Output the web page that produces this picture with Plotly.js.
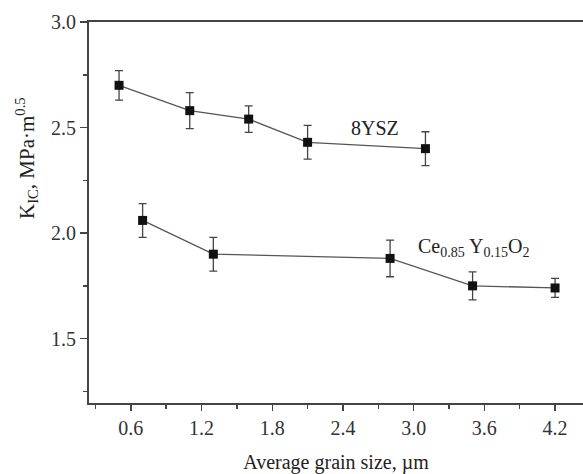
<!DOCTYPE html>
<html>
<head>
<meta charset="utf-8">
<script src="https://cdn.plot.ly/plotly-3.0.1.min.js"></script>
<style>html,body{margin:0;padding:0;background:#fff;}#chart{width:583px;height:474px;}</style>
</head>
<body>
<div id="chart"></div>
<script>
// 8YSZ series
const ysz_x = [0.5, 1.1, 1.6, 2.1, 3.1];
const ysz_y = [2.70, 2.58, 2.54, 2.43, 2.40];
const ysz_err = [0.07, 0.085, 0.063, 0.08, 0.08];
// Ce0.85Y0.15O2 series
const ce_x = [0.7, 1.3, 2.8, 3.5, 4.2];
const ce_y = [2.06, 1.90, 1.88, 1.75, 1.74];
const ce_err = [0.08, 0.08, 0.087, 0.066, 0.045];
// labels
const seriesLabels = ["8YSZ", "Ce<sub>0.85</sub> Y<sub>0.15</sub>O<sub>2</sub>"];
const labelPos = [[2.67, 2.50], [3.51, 1.93]];
const xTitle = "Average grain size, µm";
const yTitle = "K<sub>IC</sub>, MPa·m<sup>0.5</sup>";

const font = "Liberation Serif";
function series(x, y, e) {
  return {
    x: x, y: y, type: "scatter", mode: "lines+markers",
    line: {color: "#555555", width: 1.3},
    marker: {symbol: "square", size: 9, color: "#111111"},
    error_y: {type: "data", array: e, visible: true, color: "#444444", thickness: 1.3, width: 4},
    showlegend: false, hoverinfo: "skip"
  };
}
const data = [series(ysz_x, ysz_y, ysz_err), series(ce_x, ce_y, ce_err)];

const layout = {
  width: 583, height: 474,
  margin: {l: 89, r: 0, t: 22, b: 71, pad: 0},
  paper_bgcolor: "#ffffff", plot_bgcolor: "#ffffff",
  font: {family: font, color: "#333333", size: 20},
  xaxis: {
    range: [0.245, 4.437], tick0: 0.6, dtick: 0.6, tickformat: ".1f",
    ticks: "outside", ticklen: 6, tickwidth: 1.5, tickcolor: "#444",
    minor: {dtick: 0.3, tick0: 0, ticks: "outside", ticklen: 4, tickwidth: 1.5, tickcolor: "#444"},
    showline: true, linecolor: "#444", linewidth: 2, mirror: true,
    showgrid: false, zeroline: false,
    tickfont: {family: font, size: 20, color: "#333"},
    title: {text: xTitle, font: {family: font, size: 20, color: "#222"}, standoff: 18}
  },
  yaxis: {
    range: [1.195, 3.0], tick0: 1.5, dtick: 0.5, tickformat: ".1f",
    ticks: "outside", ticklen: 7, tickwidth: 1.5, tickcolor: "#444",
    minor: {dtick: 0.25, tick0: 0, ticks: "outside", ticklen: 4, tickwidth: 1.5, tickcolor: "#444"},
    showline: true, linecolor: "#444", linewidth: 2, mirror: false,
    showgrid: false, zeroline: false,
    tickfont: {family: font, size: 20, color: "#333"}
  },
  annotations: [
    {text: seriesLabels[0], x: labelPos[0][0], y: labelPos[0][1], xref: "x", yref: "y",
     showarrow: false, font: {family: font, size: 20, color: "#222"}},
    {text: seriesLabels[1], x: labelPos[1][0], y: labelPos[1][1], xref: "x", yref: "y",
     showarrow: false, font: {family: font, size: 20, color: "#222"}},
    {text: yTitle, x: 0, y: 0, xref: "paper", yref: "paper", showarrow: false,
     textangle: -90, font: {family: font, size: 21, color: "#222"}}
  ]
};
// y-title annotation positioned in pixel terms converted to paper coords
const plotW = 583 - 89, plotH = 474 - 22 - 71;
layout.annotations[2].x = (26 - 89) / plotW;
layout.annotations[2].y = (474 - 71 - 158) / plotH;
layout.annotations[2].xanchor = "center";
layout.annotations[2].yanchor = "middle";

Plotly.newPlot("chart", data, layout, {staticPlot: true, displayModeBar: false});
</script>
</body>
</html>
